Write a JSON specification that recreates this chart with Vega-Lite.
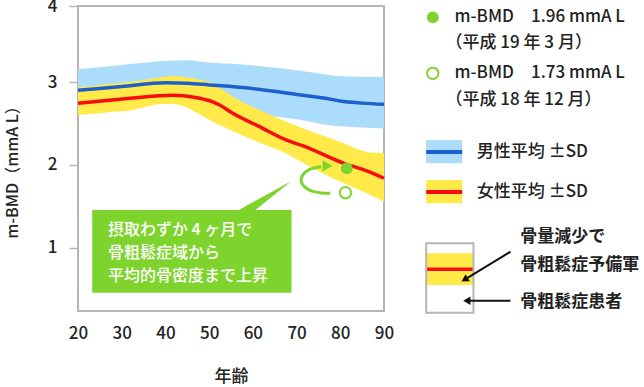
{
  "$schema": "https://vega.github.io/schema/vega-lite/v6.json",
  "width": 306,
  "height": 305,
  "autosize": {"type": "none"},
  "padding": {"left": 78, "top": 6, "right": 260, "bottom": 76},
  "background": "white",
  "config": {
    "font": "Noto Sans CJK JP",
    "view": {"stroke": "#b5b5b5", "strokeWidth": 2}
  },
  "datasets": {
    "bands": [
      {"sex": "M", "age": 20, "mean": 2.90, "lo": 2.65, "hi": 3.167},
      {"sex": "M", "age": 30, "mean": 2.945, "lo": 2.70, "hi": 3.225},
      {"sex": "M", "age": 40, "mean": 2.99, "lo": 2.75, "hi": 3.276},
      {"sex": "M", "age": 45, "mean": 2.985, "lo": 2.75, "hi": 3.285},
      {"sex": "M", "age": 50, "mean": 2.965, "lo": 2.70, "hi": 3.255},
      {"sex": "M", "age": 60, "mean": 2.92, "lo": 2.62, "hi": 3.22},
      {"sex": "M", "age": 70, "mean": 2.85, "lo": 2.55, "hi": 3.155},
      {"sex": "M", "age": 78, "mean": 2.79, "lo": 2.475, "hi": 3.09},
      {"sex": "M", "age": 80, "mean": 2.77, "lo": 2.465, "hi": 3.075},
      {"sex": "M", "age": 85, "mean": 2.745, "lo": 2.45, "hi": 3.07},
      {"sex": "M", "age": 90, "mean": 2.73, "lo": 2.44, "hi": 3.07},
      {"sex": "F", "age": 20, "mean": 2.743, "lo": 2.602, "hi": 2.936},
      {"sex": "F", "age": 26, "mean": 2.775, "lo": 2.63, "hi": 2.97},
      {"sex": "F", "age": 32.5, "mean": 2.807, "lo": 2.662, "hi": 3.004},
      {"sex": "F", "age": 38.6, "mean": 2.835, "lo": 2.73, "hi": 3.06},
      {"sex": "F", "age": 41.7, "mean": 2.84, "lo": 2.734, "hi": 3.079},
      {"sex": "F", "age": 44.7, "mean": 2.831, "lo": 2.695, "hi": 3.062},
      {"sex": "F", "age": 47.8, "mean": 2.803, "lo": 2.61, "hi": 3.03},
      {"sex": "F", "age": 50.8, "mean": 2.76, "lo": 2.521, "hi": 2.984},
      {"sex": "F", "age": 52.4, "mean": 2.722, "lo": 2.48, "hi": 2.93},
      {"sex": "F", "age": 55.4, "mean": 2.622, "lo": 2.41, "hi": 2.823},
      {"sex": "F", "age": 61.5, "mean": 2.461, "lo": 2.268, "hi": 2.662},
      {"sex": "F", "age": 67.6, "mean": 2.30, "lo": 2.14, "hi": 2.52},
      {"sex": "F", "age": 71.4, "mean": 2.231, "lo": 2.026, "hi": 2.441},
      {"sex": "F", "age": 80.8, "mean": 2.019, "lo": 1.777, "hi": 2.26},
      {"sex": "F", "age": 85.9, "mean": 1.93, "lo": 1.66, "hi": 2.159},
      {"sex": "F", "age": 90, "mean": 1.838, "lo": 1.555, "hi": 2.14}
    ],
    "callout": [{"x1": 23.25, "x2": 68.84, "y1": 1.455, "y2": 0.457}],
    "pointer": [
      {"age": 56.78, "top": 1.455, "bot": 1.455},
      {"age": 60.60, "top": 1.566, "bot": 1.455},
      {"age": 68.84, "top": 1.805, "bot": 1.805}
    ],
    "calloutText": [
      {"age": 26.86, "val": 1.214, "text": "摂取わずか 4 ヶ月で"},
      {"age": 26.86, "val": 0.932, "text": "骨粗鬆症域から"},
      {"age": 26.86, "val": 0.658, "text": "平均的骨密度まで上昇"}
    ],
    "gpath": [
      {"ord": 1, "age": 77.69, "val": 1.657},
      {"ord": 2, "age": 75.24, "val": 1.664},
      {"ord": 3, "age": 72.57, "val": 1.705},
      {"ord": 4, "age": 71.06, "val": 1.797},
      {"ord": 5, "age": 71.43, "val": 1.878},
      {"ord": 6, "age": 72.96, "val": 1.946},
      {"ord": 7, "age": 75.63, "val": 1.978}
    ],
    "ghead": [{"age": 77.08, "val": 1.988}],
    "dots": [
      {"kind": "filled", "age": 81.49, "val": 1.958},
      {"kind": "hollow", "age": 81.19, "val": 1.664},
      {"kind": "filled", "age": 101.16, "val": 3.851},
      {"kind": "hollow", "age": 101.16, "val": 3.114}
    ],
    "legendText": [
      {"age": 106.13, "val": 3.851, "text": "m-BMD　1.96 mmA L"},
      {"age": 104.07, "val": 3.517, "text": "（平成 19 年 3 月）"},
      {"age": 106.13, "val": 3.114, "text": "m-BMD　1.73 mmA L"},
      {"age": 104.07, "val": 2.783, "text": "（平成 18 年 12 月）"},
      {"age": 111.23, "val": 2.155, "text": "男性平均 ±SD"},
      {"age": 111.23, "val": 1.672, "text": "女性平均 ±SD"}
    ],
    "swatch": [
      {"sex": "M", "x1": 99.65, "x2": 107.89, "y1": 2.300, "y2": 2.019, "mid": 2.155},
      {"sex": "F", "x1": 99.65, "x2": 107.89, "y1": 1.817, "y2": 1.536, "mid": 1.672}
    ],
    "box": [{"x1": 99.65, "x2": 110.47, "y1": 1.053, "y2": 0.215, "b1": 0.932, "b2": 0.550, "mid": 0.739}],
    "arrows": [
      {"id": "a1", "x1": 118.94, "y1": 0.952, "x2": 108.44, "y2": 0.615},
      {"id": "a2", "x1": 118.94, "y1": 0.360, "x2": 108.94, "y2": 0.360}
    ],
    "lowerText": [
      {"age": 121.16, "val": 1.133, "text": "骨量減少で"},
      {"age": 121.16, "val": 0.791, "text": "骨粗鬆症予備軍"},
      {"age": 121.16, "val": 0.348, "text": "骨粗鬆症患者"}
    ]
  },
  "layer": [
    {
      "data": {"name": "bands"},
      "transform": [{"filter": "datum.sex === 'M'"}],
      "mark": {"type": "area", "color": "#abdcfa", "opacity": 1, "interpolate": "monotone"},
      "encoding": {
        "x": {
          "field": "age", "type": "quantitative",
          "scale": {"domain": [20, 90], "nice": false, "zero": false},
          "axis": {
            "title": "年齢", "values": [20, 30, 40, 50, 60, 70, 80, 90], "format": "d",
            "ticks": false, "domain": false, "grid": false, "labelFlush": false,
            "labelFontSize": 17, "labelFontWeight": 500, "labelColor": "#222", "labelPadding": 14,
            "titleFontSize": 17, "titleFontWeight": 500, "titleColor": "#222", "titlePadding": 27
          }
        },
        "y": {
          "field": "hi", "type": "quantitative",
          "scale": {"domain": [0.236, 3, 4], "range": [305, 76, 0], "nice": false, "zero": false},
          "axis": {
            "title": "m-BMD（mmA L）", "values": [1, 2, 3, 4], "format": "d",
            "domain": false, "grid": false, "tickSize": 9, "tickColor": "#b5b5b5", "tickWidth": 1.5,
            "labelFontSize": 17, "labelFontWeight": 500, "labelColor": "#222", "labelPadding": 12,
            "titleFontSize": 16, "titleFontWeight": 500, "titleColor": "#222",
            "titleAngle": -90, "titleBaseline": "middle", "titleAlign": "center", "titleX": -66, "titleY": 162
          }
        },
        "y2": {"field": "lo"}
      }
    },
    {
      "data": {"name": "bands"},
      "transform": [{"filter": "datum.sex === 'F'"}],
      "mark": {"type": "area", "color": "#ffea4a", "opacity": 1, "interpolate": "monotone"},
      "encoding": {
        "x": {"field": "age", "type": "quantitative"},
        "y": {"field": "hi", "type": "quantitative"},
        "y2": {"field": "lo"}
      }
    },
    {
      "data": {"name": "bands"},
      "transform": [{"filter": "datum.sex === 'M'"}],
      "mark": {"type": "line", "color": "#1d5fcd", "strokeWidth": 3.5, "interpolate": "monotone"},
      "encoding": {
        "x": {"field": "age", "type": "quantitative"},
        "y": {"field": "mean", "type": "quantitative"}
      }
    },
    {
      "data": {"name": "bands"},
      "transform": [{"filter": "datum.sex === 'F'"}],
      "mark": {"type": "line", "color": "#f70d0d", "strokeWidth": 3.5, "interpolate": "monotone"},
      "encoding": {
        "x": {"field": "age", "type": "quantitative"},
        "y": {"field": "mean", "type": "quantitative"}
      }
    },
    {
      "data": {"name": "callout"},
      "mark": {"type": "rect", "color": "#7ed42c"},
      "encoding": {
        "x": {"field": "x1", "type": "quantitative"},
        "x2": {"field": "x2"},
        "y": {"field": "y1", "type": "quantitative"},
        "y2": {"field": "y2"}
      }
    },
    {
      "data": {"name": "pointer"},
      "mark": {"type": "area", "color": "#7ed42c", "opacity": 1},
      "encoding": {
        "x": {"field": "age", "type": "quantitative"},
        "y": {"field": "top", "type": "quantitative"},
        "y2": {"field": "bot"}
      }
    },
    {
      "data": {"name": "calloutText"},
      "mark": {"type": "text", "color": "white", "fontSize": 16, "fontWeight": 500, "align": "left", "baseline": "middle"},
      "encoding": {
        "x": {"field": "age", "type": "quantitative"},
        "y": {"field": "val", "type": "quantitative"},
        "text": {"field": "text"}
      }
    },
    {
      "data": {"name": "gpath"},
      "mark": {"type": "line", "color": "#7ed42c", "strokeWidth": 3, "interpolate": "catmull-rom"},
      "encoding": {
        "x": {"field": "age", "type": "quantitative"},
        "y": {"field": "val", "type": "quantitative"},
        "order": {"field": "ord", "type": "quantitative"}
      }
    },
    {
      "data": {"name": "ghead"},
      "mark": {"type": "point", "shape": "triangle-right", "filled": true, "color": "#7ed42c", "opacity": 1, "size": 130},
      "encoding": {
        "x": {"field": "age", "type": "quantitative"},
        "y": {"field": "val", "type": "quantitative"}
      }
    },
    {
      "data": {"name": "dots"},
      "transform": [{"filter": "datum.kind === 'filled'"}],
      "mark": {"type": "point", "shape": "circle", "filled": true, "color": "#7ed42c", "opacity": 1, "size": 140},
      "encoding": {
        "x": {"field": "age", "type": "quantitative"},
        "y": {"field": "val", "type": "quantitative"}
      }
    },
    {
      "data": {"name": "dots"},
      "transform": [{"filter": "datum.kind === 'hollow'"}],
      "mark": {"type": "point", "shape": "circle", "filled": true, "fill": "white", "stroke": "#7ed42c", "strokeWidth": 2, "opacity": 1, "size": 130},
      "encoding": {
        "x": {"field": "age", "type": "quantitative"},
        "y": {"field": "val", "type": "quantitative"}
      }
    },
    {
      "data": {"name": "swatch"},
      "transform": [{"filter": "datum.sex === 'M'"}],
      "mark": {"type": "rect", "color": "#abdcfa"},
      "encoding": {
        "x": {"field": "x1", "type": "quantitative"},
        "x2": {"field": "x2"},
        "y": {"field": "y1", "type": "quantitative"},
        "y2": {"field": "y2"}
      }
    },
    {
      "data": {"name": "swatch"},
      "transform": [{"filter": "datum.sex === 'F'"}],
      "mark": {"type": "rect", "color": "#ffea4a"},
      "encoding": {
        "x": {"field": "x1", "type": "quantitative"},
        "x2": {"field": "x2"},
        "y": {"field": "y1", "type": "quantitative"},
        "y2": {"field": "y2"}
      }
    },
    {
      "data": {"name": "swatch"},
      "transform": [{"filter": "datum.sex === 'M'"}],
      "mark": {"type": "rule", "color": "#1d5fcd", "strokeWidth": 4},
      "encoding": {
        "x": {"field": "x1", "type": "quantitative"},
        "x2": {"field": "x2"},
        "y": {"field": "mid", "type": "quantitative"}
      }
    },
    {
      "data": {"name": "swatch"},
      "transform": [{"filter": "datum.sex === 'F'"}],
      "mark": {"type": "rule", "color": "#f70d0d", "strokeWidth": 4},
      "encoding": {
        "x": {"field": "x1", "type": "quantitative"},
        "x2": {"field": "x2"},
        "y": {"field": "mid", "type": "quantitative"}
      }
    },
    {
      "data": {"name": "legendText"},
      "mark": {"type": "text", "color": "#222", "fontSize": 17, "fontWeight": 500, "align": "left", "baseline": "middle"},
      "encoding": {
        "x": {"field": "age", "type": "quantitative"},
        "y": {"field": "val", "type": "quantitative"},
        "text": {"field": "text"}
      }
    },
    {
      "data": {"name": "box"},
      "mark": {"type": "rect", "color": "#ffea4a"},
      "encoding": {
        "x": {"field": "x1", "type": "quantitative"},
        "x2": {"field": "x2"},
        "y": {"field": "b1", "type": "quantitative"},
        "y2": {"field": "b2"}
      }
    },
    {
      "data": {"name": "box"},
      "mark": {"type": "rule", "color": "#f70d0d", "strokeWidth": 3.5},
      "encoding": {
        "x": {"field": "x1", "type": "quantitative"},
        "x2": {"field": "x2"},
        "y": {"field": "mid", "type": "quantitative"}
      }
    },
    {
      "data": {"name": "box"},
      "mark": {"type": "rect", "fill": null, "fillOpacity": 0, "stroke": "#b5b5b5", "strokeWidth": 2},
      "encoding": {
        "x": {"field": "x1", "type": "quantitative"},
        "x2": {"field": "x2"},
        "y": {"field": "y1", "type": "quantitative"},
        "y2": {"field": "y2"}
      }
    },
    {
      "data": {"name": "arrows"},
      "mark": {"type": "rule", "color": "#111", "strokeWidth": 2},
      "encoding": {
        "x": {"field": "x1", "type": "quantitative"},
        "x2": {"field": "x2"},
        "y": {"field": "y1", "type": "quantitative"},
        "y2": {"field": "y2"}
      }
    },
    {
      "data": {"name": "arrows"},
      "transform": [{"filter": "datum.id === 'a1'"}],
      "mark": {"type": "point", "shape": "triangle-up", "angle": 238.7, "filled": true, "color": "#111", "opacity": 1, "size": 70},
      "encoding": {
        "x": {"field": "x2", "type": "quantitative"},
        "y": {"field": "y2", "type": "quantitative"}
      }
    },
    {
      "data": {"name": "arrows"},
      "transform": [{"filter": "datum.id === 'a2'"}],
      "mark": {"type": "point", "shape": "triangle-left", "filled": true, "color": "#111", "opacity": 1, "size": 70},
      "encoding": {
        "x": {"field": "x2", "type": "quantitative"},
        "y": {"field": "y2", "type": "quantitative"}
      }
    },
    {
      "data": {"name": "lowerText"},
      "mark": {"type": "text", "color": "#222", "fontSize": 17, "fontWeight": "bold", "align": "left", "baseline": "middle"},
      "encoding": {
        "x": {"field": "age", "type": "quantitative"},
        "y": {"field": "val", "type": "quantitative"},
        "text": {"field": "text"}
      }
    }
  ]
}
